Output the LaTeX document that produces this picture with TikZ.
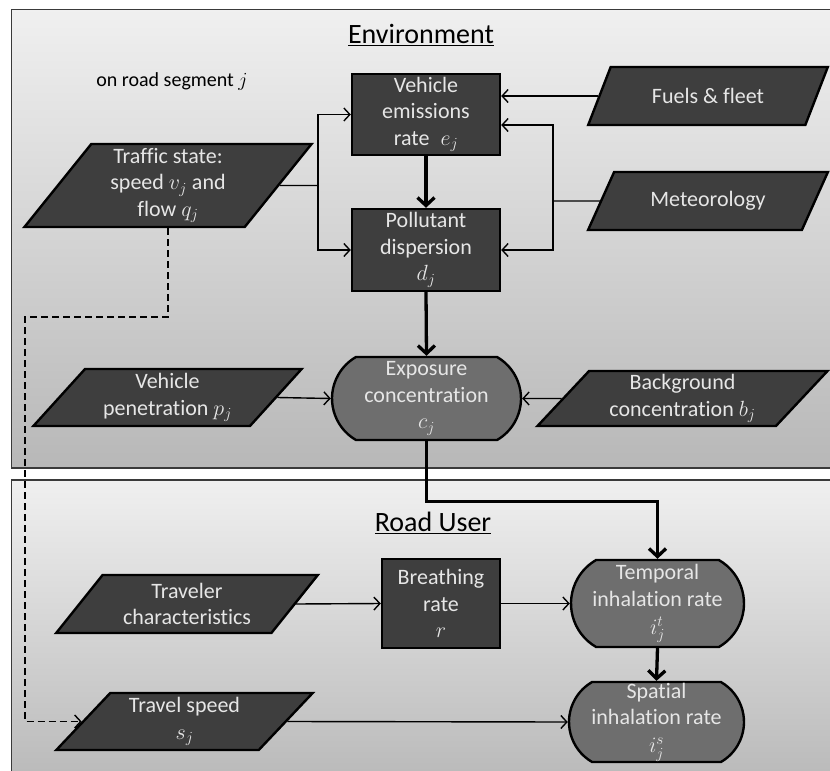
\RequirePackage{fix-cm}
\documentclass[tikz,border=0pt]{standalone}
\usepackage{fontspec}
\setmainfont{Carlito}[Ligatures=NoCommon]
\usetikzlibrary{positioning,arrows.meta,shapes.geometric,shapes.misc}
\definecolor{boxgray}{HTML}{3E3E3E}
\definecolor{roundgray}{HTML}{6E6E6E}
\definecolor{txtgray}{HTML}{E6E6E6}
\definecolor{framegray}{HTML}{3A3A3A}

\begin{document}
\begin{tikzpicture}[x=1pt,y=-1pt,
  every node/.style={font=\fontsize{22}{26.5}\selectfont,align=center,inner sep=0pt},
  proc/.style={draw=black,line width=2.4pt,fill=boxgray,text=txtgray,minimum width=148pt,minimum height=81pt},
  term/.style={rounded rectangle,rounded rectangle arc length=120,draw=black,line width=2.4pt,fill=roundgray,text=txtgray},
  data/.style={trapezium,trapezium left angle=50,trapezium right angle=130,trapezium stretches=true,
    draw=black,line width=2.4pt,fill=boxgray,text=txtgray},
  panel/.style={draw=framegray,line width=1.5pt,top color=black!6,bottom color=black!28},
  title/.style={font=\fontsize{28}{32}\selectfont},
  flow/.style={line width=1.4pt,-{Straight Barb[length=6pt,width=13pt]}},
  main/.style={line width=3.3pt,-{Straight Barb[length=8pt,width=17pt]}}]
  \useasboundingbox (0,0) rectangle (830,771);
  \clip (0,0) rectangle (830,771);

  % panels
  \path[panel] (11.5,9.5) rectangle (845,468);
  \path[panel] (11.5,480) rectangle (845,790);

  % environment
  \node[title] (envt) at (421,35) {\underline{Environment}};
  \node[font=\fontsize{20}{24}\selectfont] (seg) at (172,82) {on road segment $j$};
  \node[proc] (emis) at (426,114.5) {Vehicle\\emissions\\rate\enspace$e_j$};
  \node[proc,minimum height=82pt] (disp) at (426,250) {Pollutant\\dispersion\\$d_j$};
  \node[data,minimum width=240pt,minimum height=58pt] (fuel) at (708,96) {Fuels \& fleet};
  \node[data,minimum width=240pt,minimum height=58pt] (met) at (708,201) {Meteorology};
  \node[data,trapezium left angle=56,trapezium right angle=124,minimum width=288pt,minimum height=83pt]
    (traf) at (168,185.5) {Traffic state:\\speed $v_j$ and\\flow $q_j$};
  \node[term,minimum width=189pt,minimum height=83pt] (expo) at (426.5,398.5) {Exposure\\concentration\\$c_j$};
  \node[data,minimum width=269pt,minimum height=57pt] (pen) at (167.5,397.5) {Vehicle\\penetration $p_j$};
  \node[data,minimum width=291pt,minimum height=55pt] (back) at (682.5,398.5) {Background\\concentration $b_j$};

  % road user
  \node[title] (usert) at (433,523) {\underline{Road User}};
  \node[data,minimum width=262pt,minimum height=58pt] (trav) at (187,604) {Traveler\\characteristics};
  \node[proc,minimum width=118pt,minimum height=89pt] (breath) at (441,603.5) {Breathing\\rate\\$r$};
  \node[term,minimum width=173pt,minimum height=87pt] (temp) at (657.5,603.5) {Temporal\\inhalation rate\\[1.5pt]$i_j^t$};
  \node[term,minimum width=175pt,minimum height=80pt] (spat) at (656.5,722) {Spatial\\inhalation rate\\[1.5pt]$i_j^s$};
  \node[data,minimum width=257pt,minimum height=57pt] (tspd) at (184.5,721.5) {Travel speed\\$s_j$};

  % connectors
  \coordinate (tj) at (318,185.5);
  \coordinate (mj) at (553,201);
  \coordinate (dj) at (25,317);
  \draw[line width=1.4pt] (traf.east) -- (tj);
  \draw[flow] (tj) |- (emis.west);
  \draw[flow] (tj) |- (disp.west);
  \draw[flow] (fuel.west) -- (fuel.west -| emis.east);
  \draw[line width=1.4pt] (met.west) -- (mj);
  \draw[flow] (mj) |- (emis.east |- 0,125);
  \draw[flow] (mj) |- (disp.east);
  \draw[main] (emis.south) -- (disp.north);
  \draw[main] (disp.south) -- (expo.north);
  \draw[flow] (pen.east) -- (expo.west);
  \draw[flow] (back.west) -- (expo.east);
  \draw[main] (expo.south) -- ++(0,60) -| (temp.north);
  \draw[flow] (trav.east) -- (breath.west);
  \draw[flow] (breath.east) -- (temp.west);
  \draw[main] (temp.south) -- (spat.north);
  \draw[flow] (tspd.east) -- (spat.west);
  \draw[flow,dash pattern=on 7pt off 4pt] (traf.south -| traf.center) |- (dj) |- (tspd.west);
\end{tikzpicture}
\end{document}
